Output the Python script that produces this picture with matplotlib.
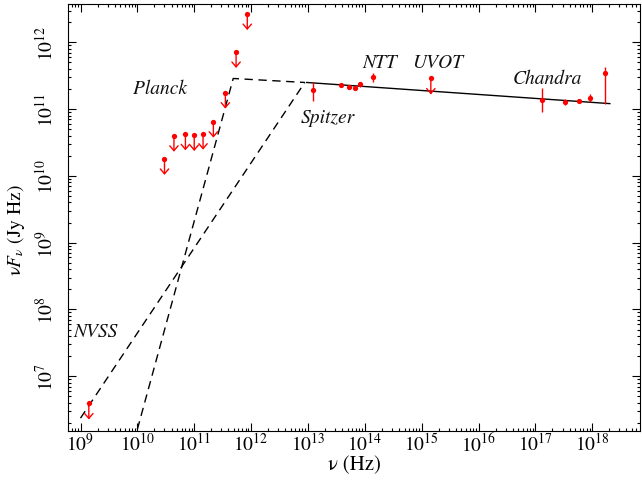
import numpy as np
import matplotlib
matplotlib.use("Agg")
import matplotlib.pyplot as plt
from matplotlib.ticker import FixedLocator, NullFormatter, LogFormatterSciNotation

plt.rcParams['font.family'] = ['STIXGeneral', 'DejaVu Serif']
plt.rcParams['mathtext.fontset'] = 'stix'

# ---- data ----
planck_nu = [3.0e10, 4.4e10, 7.0e10, 1.0e11, 1.43e11, 2.17e11, 3.53e11, 5.45e11, 8.57e11]
planck_ul = [1.8e10, 4.0e10, 4.2e10, 4.1e10, 4.3e10, 6.5e10, 1.77e11, 7.2e11, 2.66e12]
nvss_nu = [1.4e9]
nvss_ul = [3.9e6]
uvot_nu = [1.45e15]
uvot_ul = [2.88e11]

det_nu = [1.25e13, 3.8e13, 5.2e13, 6.8e13, 8.4e13, 1.39e14,
          1.32e17, 3.36e17, 5.85e17, 9.25e17, 1.67e18]
det_f = [1.94e11, 2.31e11, 2.18e11, 2.08e11, 2.42e11, 2.98e11,
         1.36e11, 1.30e11, 1.32e11, 1.47e11, 3.46e11]
det_lo = [1.33e11, 2.25e11, 2.12e11, 2.02e11, 2.15e11, 2.59e11,
          9.08e10, 1.17e11, 1.26e11, 1.28e11, 1.21e11]
det_hi = [2.57e11, 2.38e11, 2.24e11, 2.14e11, 2.59e11, 3.42e11,
          2.08e11, 1.44e11, 1.38e11, 1.69e11, 4.21e11]

fit_nu = [9.46e12, 2.04e18]
fit_f = [2.51e11, 1.21e11]

dashA_nu = [1.0e10, 4.85e11, 8.8e12]
dashA_f = [1.6e6, 2.88e11, 2.51e11]
dashB_nu = [1.0e9, 8.8e12]
dashB_f = [2.35e6, 2.51e11]

labels = ["Planck", "Spitzer", "NTT", "UVOT", "Chandra", "NVSS"]
label_nu = [2.5e10, 2.24e13, 1.85e14, 1.93e15, 1.63e17, 1.82e9]
label_f = [2.06e11, 7.8e10, 5.1e11, 5.1e11, 2.91e11, 4.7e7]

x_exponents = list(range(9, 19))
y_exponents = list(range(7, 13))

# ---- figure ----
W, H = 642, 481
fig = plt.figure(figsize=(W / 100, H / 100), dpi=100)
ax = fig.add_axes([68 / W, (H - 431.7) / H, (640 - 68) / W, (431.7 - 5) / H])
ax.set_xscale('log')
ax.set_yscale('log')
xlo, xhi = 10 ** 8.78, 10 ** 18.84
ylo, yhi = 10 ** 6.183, 10 ** 12.575
ax.set_xlim(xlo, xhi)
ax.set_ylim(ylo, yhi)

dash = (6, 4)
ax.plot(dashA_nu, dashA_f, color='black', lw=1, dashes=dash)
ax.plot(dashB_nu, dashB_f, color='black', lw=1, dashes=dash)
ax.plot(fit_nu, fit_f, color='black', lw=1)

red = '#ff0000'
arrow_fac = 10 ** -0.24
for nus, uls in [(planck_nu, planck_ul), (nvss_nu, nvss_ul), (uvot_nu, uvot_ul)]:
    ax.plot(nus, uls, 'o', ms=3.8, color=red, mec='none')
    for n, u in zip(nus, uls):
        ax.annotate('', xy=(n, u * arrow_fac), xytext=(n, u),
                    arrowprops=dict(arrowstyle='->,head_length=0.35,head_width=0.3',
                                    color=red, lw=1, shrinkA=0, shrinkB=0))

det_f_a = np.array(det_f)
yerr = [det_f_a - np.array(det_lo), np.array(det_hi) - det_f_a]
ax.errorbar(det_nu, det_f, yerr=yerr, fmt='o', ms=3.8, color=red, mec='none',
            ecolor=red, elinewidth=1, capsize=0)

for t, n, f in zip(labels, label_nu, label_f):
    ax.text(n, f, t, fontsize=14, style='italic', ha='center', va='center', color='#111111')


def minor_positions(e0, e1, lo, hi):
    vals = [m * 10.0 ** e for e in range(e0, e1) for m in range(2, 10)]
    return [v for v in vals if lo <= v <= hi]


ax.xaxis.set_major_locator(FixedLocator([10.0 ** e for e in x_exponents]))
ax.xaxis.set_minor_locator(FixedLocator(minor_positions(8, 19, xlo, xhi)))
ax.yaxis.set_major_locator(FixedLocator([10.0 ** e for e in y_exponents]))
ax.yaxis.set_minor_locator(FixedLocator(minor_positions(6, 13, ylo, yhi)))
ax.xaxis.set_major_formatter(LogFormatterSciNotation())
ax.yaxis.set_major_formatter(LogFormatterSciNotation())
ax.xaxis.set_minor_formatter(NullFormatter())
ax.yaxis.set_minor_formatter(NullFormatter())

ax.tick_params(which='both', direction='in', top=True, right=True, width=0.8)
ax.tick_params(which='major', length=6, labelsize=14)
ax.tick_params(which='minor', length=2.5)
ax.tick_params(axis='x', pad=1)
ax.tick_params(axis='y', labelrotation=90, pad=8)
for lab in ax.get_yticklabels():
    lab.set_va('center')

ax.set_xlabel('ν (Hz)', fontsize=15, labelpad=0)
ax.set_ylabel(r'ν$F_{\nu}$ (Jy Hz)', fontsize=14)
ax.yaxis.set_label_coords(-0.0717, 0.4727)

fig.savefig('out.png', dpi=100)
